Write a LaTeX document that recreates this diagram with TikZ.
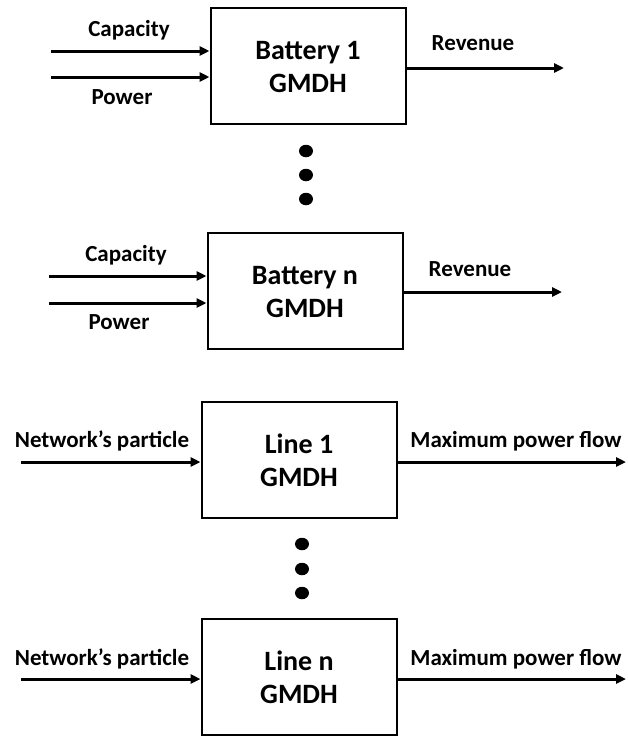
\documentclass[tikz,border=0pt]{standalone}
\usepackage{fontspec}
\setmainfont{Carlito}
\usetikzlibrary{arrows.meta,shapes.geometric}
\newcommand{\boxtxt}[2]{\raisebox{-3pt}[\height][\depth]{\begin{tabular}{@{}c@{}}#1\\#2\end{tabular}}}
\begin{document}
\begin{tikzpicture}[x=1pt,y=-1pt,
  gbox/.style={draw,line width=2pt,minimum width=195pt,minimum height=116pt,inner sep=0pt,font=\fontsize{28}{33}\selectfont\bfseries},
  lbl/.style={inner sep=0pt,font=\fontsize{23}{25}\selectfont\bfseries},
  arr/.style={line width=3pt,-{Triangle[length=10pt,width=9pt]}},
  dot/.style={ellipse,fill=black,inner sep=0pt,minimum width=14pt,minimum height=12.5pt}]
\useasboundingbox (0,0) rectangle (627,736);
% Battery 1
\node[gbox] (b1) at (308,66) {\boxtxt{Battery 1}{GMDH}};
\coordinate (b1c) at (51,51);
\coordinate (b1p) at (51,77);
\coordinate (b1r) at (564,68);
\draw[arr] (b1c) -- (b1c -| b1.west);
\draw[arr] (b1p) -- (b1p -| b1.west);
\draw[arr] (b1r -| b1.east) -- (b1r);
\node[lbl] (b1cl) at (129,30) {Capacity};
\node[lbl] (b1pl) at (122,97) {Power};
\node[lbl] (b1rl) at (473,43) {Revenue};
\node[dot] (d1) at (306,151) {};
\node[dot] (d2) at (306,175) {};
\node[dot] (d3) at (306,199) {};
% Battery n
\node[gbox] (bn) at (305,291) {\boxtxt{Battery n}{GMDH}};
\coordinate (bnc) at (49,276);
\coordinate (bnp) at (49,303);
\coordinate (bnr) at (562,292);
\draw[arr] (bnc) -- (bnc -| bn.west);
\draw[arr] (bnp) -- (bnp -| bn.west);
\draw[arr] (bnr -| bn.east) -- (bnr);
\node[lbl] (bncl) at (126,255) {Capacity};
\node[lbl] (bnpl) at (119,322) {Power};
\node[lbl] (bnrl) at (470,269) {Revenue};
% Line 1
\node[gbox] (l1) at (299,460) {\boxtxt{Line 1}{GMDH}};
\coordinate (l1i) at (21,462);
\coordinate (l1o) at (626,462);
\draw[arr] (l1i) -- (l1i -| l1.west);
\draw[arr] (l1o -| l1.east) -- (l1o);
\node[lbl] (l1il) at (102,441) {Network’s particle};
\node[lbl] (l1ol) at (516,441) {Maximum power flow};
\node[dot] (d4) at (302,544) {};
\node[dot] (d5) at (302,569) {};
\node[dot] (d6) at (302,593) {};
% Line n
\node[gbox] (ln) at (299,677) {\boxtxt{Line n}{GMDH}};
\coordinate (lni) at (21,679);
\coordinate (lno) at (626,679);
\draw[arr] (lni) -- (lni -| ln.west);
\draw[arr] (lno -| ln.east) -- (lno);
\node[lbl] (lnil) at (102,659) {Network’s particle};
\node[lbl] (lnol) at (516,659) {Maximum power flow};
\end{tikzpicture}
\end{document}
